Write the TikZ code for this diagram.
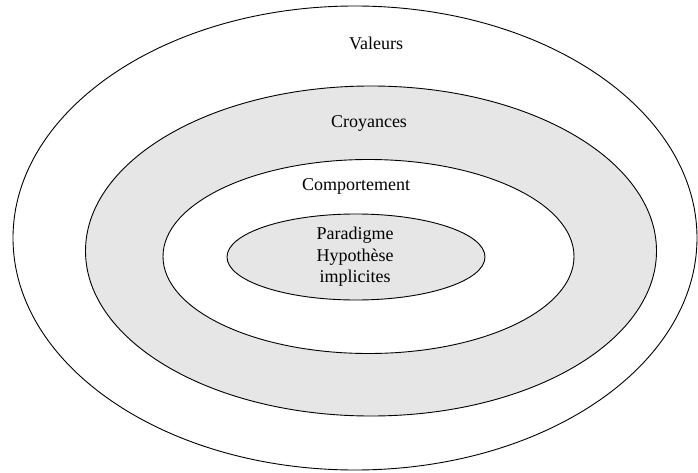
\documentclass[tikz,border=0pt]{standalone}
\usepackage{fontspec}
\setmainfont{Liberation Serif}
\usepackage{tikz}
\usepackage{xcolor}
\definecolor{ringgray}{HTML}{E6E6E6}
\tikzset{
  ring/.style={draw=black, line width=0.9pt},
  label/.style={font=\fontsize{18}{21.5}\selectfont, align=center, inner sep=0pt}
}

\begin{document}
\begin{tikzpicture}[x=1pt, y=1pt]
	\useasboundingbox (0, 0) rectangle (698, 472);
	\filldraw[ring, fill=white]     (355, 234)   ellipse [x radius=342,   y radius=232];
	\filldraw[ring, fill=ringgray]  (371, 221)   ellipse [x radius=285.5, y radius=165];
	\filldraw[ring, fill=white]     (368.5, 215.5) ellipse [x radius=205.5, y radius=97];
	\filldraw[ring, fill=ringgray]  (356, 215)   ellipse [x radius=129,   y radius=43];
	\node[label] (valeurs)      at (376, 429) {Valeurs};
	\node[label] (croyances)    at (369, 349) {Croyances};
	\node[label] (comportement) at (356, 286) {Comportement};
	\node[label] (paradigme)    at (355, 215) {Paradigme\\Hypothèse\\implicites};
\end{tikzpicture}
\end{document}
